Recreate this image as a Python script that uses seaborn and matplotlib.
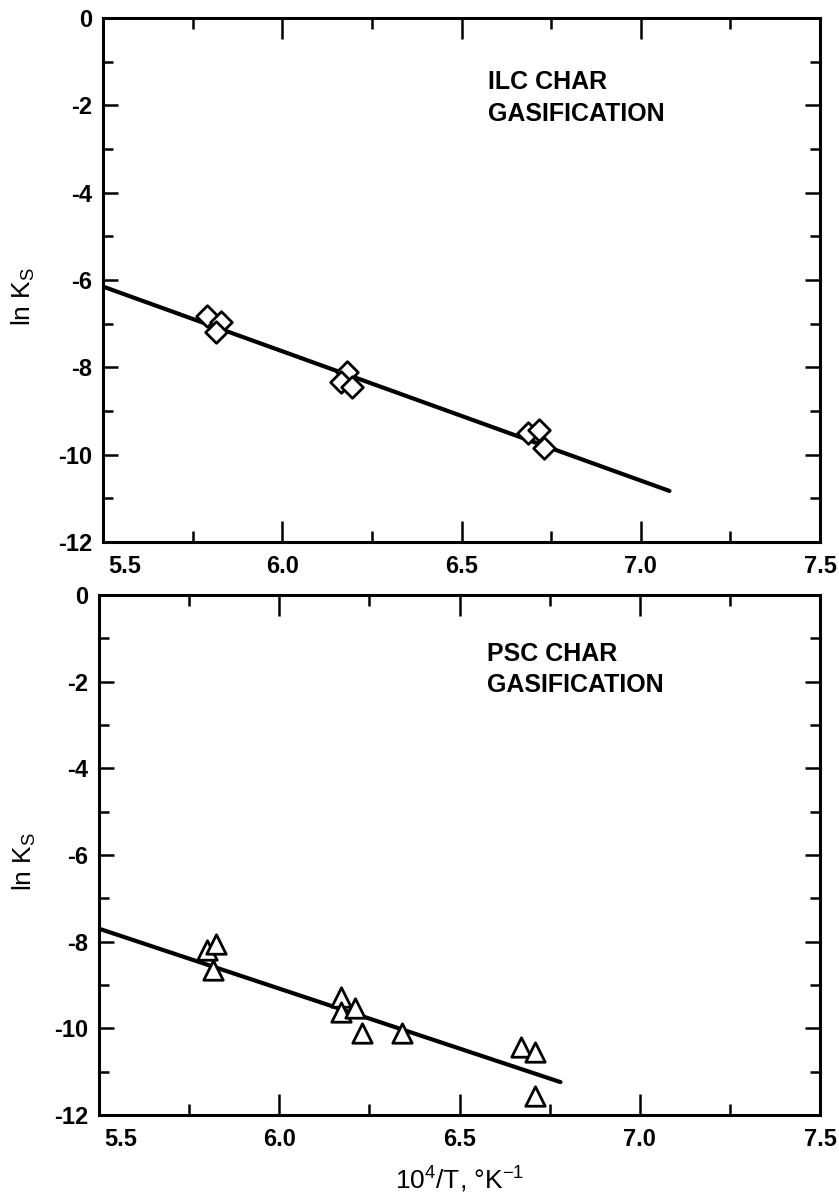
import matplotlib
matplotlib.use("Agg")
import matplotlib.pyplot as plt
from matplotlib.ticker import MultipleLocator, FixedFormatter, FixedLocator
from matplotlib.transforms import ScaledTranslation
import seaborn as sns

# ILC char gasification: ln Ks against 10^4/T
ilc_x = [5.79, 5.83, 5.815, 6.18, 6.165, 6.195, 6.685, 6.715, 6.73]
ilc_y = [-6.82, -6.97, -7.18, -8.11, -8.34, -8.45, -9.50, -9.43, -9.85]
ilc_fit_x = [5.5, 7.08]
ilc_fit_y = [-6.15, -10.83]

# PSC char gasification
psc_x = [5.80, 5.825, 5.815, 6.17, 6.17, 6.21, 6.23, 6.34, 6.67, 6.71, 6.71]
psc_y = [-8.19, -8.05, -8.65, -9.28, -9.63, -9.54, -10.10, -10.10, -10.43, -10.55, -11.55]
psc_fit_x = [5.5, 6.78]
psc_fit_y = [-7.70, -11.24]

x_ticks = [5.5, 6.0, 6.5, 7.0, 7.5]
x_ticklabels = ["5.5", "6.0", "6.5", "7.0", "7.5"]
y_ticks = [0, -2, -4, -6, -8, -10, -12]
y_ticklabels = ["0", "-2", "-4", "-6", "-8", "-10", "-12"]

sns.set_theme(style="white")
plt.rcParams["font.family"] = ["Liberation Sans", "DejaVu Sans"]
plt.rcParams["text.color"] = "black"
plt.rcParams["axes.labelcolor"] = "black"
plt.rcParams["xtick.color"] = "black"
plt.rcParams["ytick.color"] = "black"
plt.rcParams["axes.edgecolor"] = "black"
plt.rcParams["axes.unicode_minus"] = False

fig = plt.figure(figsize=(8.39, 11.96), dpi=100)
ax_top = fig.add_axes([0.1228, 0.5468, 0.8546, 0.4381])
ax_bot = fig.add_axes([0.1180, 0.0677, 0.8594, 0.4348])

label_font = dict(size=19, color="black")


def style_axes(ax):
    ax.set_xlim(5.5, 7.5)
    ax.set_ylim(-12, 0)
    ax.xaxis.set_major_locator(FixedLocator(x_ticks))
    ax.xaxis.set_major_formatter(FixedFormatter(x_ticklabels))
    ax.xaxis.set_minor_locator(MultipleLocator(0.25))
    ax.yaxis.set_major_locator(FixedLocator(y_ticks))
    ax.yaxis.set_major_formatter(FixedFormatter(y_ticklabels))
    ax.yaxis.set_minor_locator(MultipleLocator(1))
    ax.tick_params(axis="x", which="major", direction="in", length=15, width=1.8,
                   top=True, bottom=True, labelsize=17, pad=9, colors="black")
    ax.tick_params(axis="x", which="minor", direction="in", length=8, width=1.8,
                   top=True, bottom=True)
    ax.tick_params(axis="y", which="major", direction="in", length=11, width=1.8,
                   left=True, right=True, labelsize=17, pad=8, colors="black")
    ax.tick_params(axis="y", which="minor", direction="in", length=7, width=1.8,
                   left=True, right=True)
    for lab in ax.get_xticklabels() + ax.get_yticklabels():
        lab.set_fontweight("bold")
    first = ax.get_xticklabels()[0]
    first.set_transform(first.get_transform() + ScaledTranslation(0.22, 0, fig.dpi_scale_trans))
    for s in ax.spines.values():
        s.set_linewidth(2.2)
        s.set_color("black")
    ax.set_facecolor("white")
    ax.grid(False)


# top panel
sns.lineplot(x=ilc_fit_x, y=ilc_fit_y, ax=ax_top, color="black", linewidth=3.0, zorder=2)
sns.scatterplot(x=ilc_x, y=ilc_y, ax=ax_top, marker="D", s=11 ** 2, facecolor="white",
                edgecolor="black", linewidth=2.0, zorder=3)
style_axes(ax_top)
ax_top.set_xlabel("")
ax_top.set_ylabel("ln K$_\\mathregular{S}$", **label_font)
ax_top.yaxis.set_label_coords(-0.092, 0.468)
ax_top.text(6.575, -1.47, "ILC CHAR", fontsize=18, fontweight="bold", va="center", ha="left")
ax_top.text(6.575, -2.20, "GASIFICATION", fontsize=18, fontweight="bold", va="center", ha="left")

# bottom panel
sns.lineplot(x=psc_fit_x, y=psc_fit_y, ax=ax_bot, color="black", linewidth=3.0, zorder=2)
sns.scatterplot(x=psc_x, y=psc_y, ax=ax_bot, marker="^", s=14 ** 2, facecolor="white",
                edgecolor="black", linewidth=2.0, zorder=3)
style_axes(ax_bot)
ax_bot.set_ylabel("ln K$_\\mathregular{S}$", **label_font)
ax_bot.yaxis.set_label_coords(-0.085, 0.487)
ax_bot.set_xlabel("10$^\\mathregular{4}$/T, \u00b0K$^\\mathregular{-1}$", **label_font)
ax_bot.xaxis.set_label_coords(0.5, -0.092)
ax_bot.text(6.575, -1.35, "PSC CHAR", fontsize=18, fontweight="bold", va="center", ha="left")
ax_bot.text(6.575, -2.08, "GASIFICATION", fontsize=18, fontweight="bold", va="center", ha="left")

fig.savefig("out.png", dpi=100, facecolor="white")
